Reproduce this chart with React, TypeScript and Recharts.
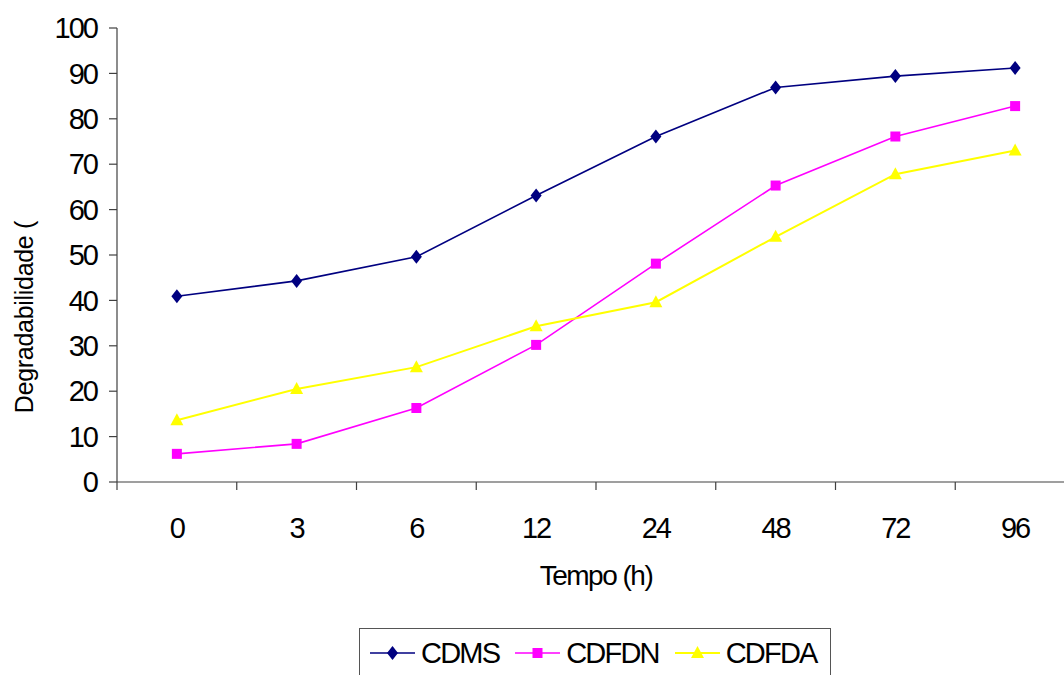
import React from 'react';
import { LineChart, Line, XAxis, YAxis, Legend, Label } from 'recharts';

const hours = ['0', '3', '6', '12', '24', '48', '72', '96'];
const cdms = [40.9, 44.3, 49.6, 63.1, 76.1, 86.9, 89.4, 91.2];
const cdfdn = [6.2, 8.4, 16.3, 30.2, 48.1, 65.3, 76.1, 82.8];
const cdfda = [13.6, 20.5, 25.3, 34.3, 39.6, 54.0, 67.8, 73.0];
const yTicks = [0, 10, 20, 30, 40, 50, 60, 70, 80, 90, 100];

const SERIES = [
  { key: 'CDMS', color: '#000080', shape: 'diamond', width: 1.6 },
  { key: 'CDFDN', color: '#FF00FF', shape: 'square', width: 1.6 },
  { key: 'CDFDA', color: '#FFFF00', shape: 'triangle', width: 2 },
];

const data = hours.map((h, i) => ({ h, CDMS: cdms[i], CDFDN: cdfdn[i], CDFDA: cdfda[i] }));

const FONT = '"Liberation Sans", Arial, sans-serif';
const AXIS = '#404040';

function Marker({ cx, cy, shape, color }: any) {
  if (cx == null || cy == null) return null;
  if (shape === 'diamond') {
    return <polygon points={`${cx},${cy - 7} ${cx + 5.5},${cy} ${cx},${cy + 7} ${cx - 5.5},${cy}`} fill={color} />;
  }
  if (shape === 'square') {
    return <rect x={cx - 5} y={cy - 5} width={10} height={10} fill={color} />;
  }
  return <polygon points={`${cx},${cy - 7} ${cx + 6.5},${cy + 5} ${cx - 6.5},${cy + 5}`} fill={color} />;
}

// category ticks: label in the middle of the band, tick mark at band start
function XTick({ x, y, payload, band }: any) {
  const left = x - band / 2;
  return (
    <g>
      <line x1={left} y1={482} x2={left} y2={490} stroke={AXIS} strokeWidth={1.2} />
      <text x={x} y={y} dy="0.71em" textAnchor="middle" fontSize={29} letterSpacing={-2} fill="#000" fontFamily={FONT}>
        {payload.value}
      </text>
    </g>
  );
}

function LegendBox() {
  return (
    <div style={{ border: '1px solid #555', width: 472, height: 60, boxSizing: 'border-box', display: 'flex', alignItems: 'center', paddingLeft: 10, paddingBottom: 11, fontFamily: FONT }}>
      {SERIES.map((s) => (
        <div key={s.key} style={{ display: 'flex', alignItems: 'center', marginRight: 16 }}>
          <svg width={45} height={20}>
            <line x1={0} y1={10} x2={45} y2={10} stroke={s.color} strokeWidth={s.width} />
            <Marker cx={22.5} cy={10} shape={s.shape} color={s.color} />
          </svg>
          <span style={{ fontSize: 29, letterSpacing: -1.8, marginLeft: 6, color: '#000', lineHeight: '30px' }}>{s.key}</span>
        </div>
      ))}
    </div>
  );
}

export default function App() {
  const band = (1075 - 117) / hours.length;
  return (
    <div style={{ position: 'fixed', left: 0, top: 0, width: 1064, height: 675, overflow: 'hidden', background: '#fff' }}>
      <LineChart width={1090} height={675} data={data} margin={{ top: 28, right: 15, left: 0, bottom: 0 }}>
        <XAxis
          dataKey="h"
          scale="band"
          height={193}
          axisLine={{ stroke: AXIS, strokeWidth: 1.2 }}
          tickLine={false}
          tickSize={0}
          tickMargin={35}
          interval={0}
          tick={<XTick band={band} />}
        >
          <Label value="Tempo (h)" position="insideTop" offset={83} fontSize={28} letterSpacing={-1.5} fill="#000" fontFamily={FONT} />
        </XAxis>
        <YAxis
          width={117}
          domain={[0, 100]}
          ticks={yTicks}
          interval={0}
          axisLine={{ stroke: AXIS, strokeWidth: 1.2 }}
          tickLine={{ stroke: AXIS, strokeWidth: 1.2 }}
          tickSize={8}
          tickMargin={12}
          tick={{ fontSize: 29, letterSpacing: -2, fill: '#000', fontFamily: FONT }}
        >
          <Label
            content={({ viewBox }: any) => (
              <text
                transform={`translate(33, ${viewBox.y + viewBox.height / 2 + 62}) rotate(-90)`}
                textAnchor="middle"
                fontSize={25}
                letterSpacing={-0.3}
                fill="#000"
                fontFamily={FONT}
              >
                Degradabilidade (
              </text>
            )}
          />
        </YAxis>
        <Legend
          layout="horizontal"
          verticalAlign="middle"
          align="center"
          wrapperStyle={{ top: 628, left: 359, width: 472 }}
          content={() => <LegendBox />}
        />
        {SERIES.map((s) => (
          <Line
            key={s.key}
            dataKey={s.key}
            stroke={s.color}
            strokeWidth={s.width}
            isAnimationActive={false}
            dot={(p: any) => <Marker key={`${s.key}-${p.index}`} cx={p.cx} cy={p.cy} shape={s.shape} color={s.color} />}
            activeDot={false}
          />
        ))}
      </LineChart>
    </div>
  );
}
